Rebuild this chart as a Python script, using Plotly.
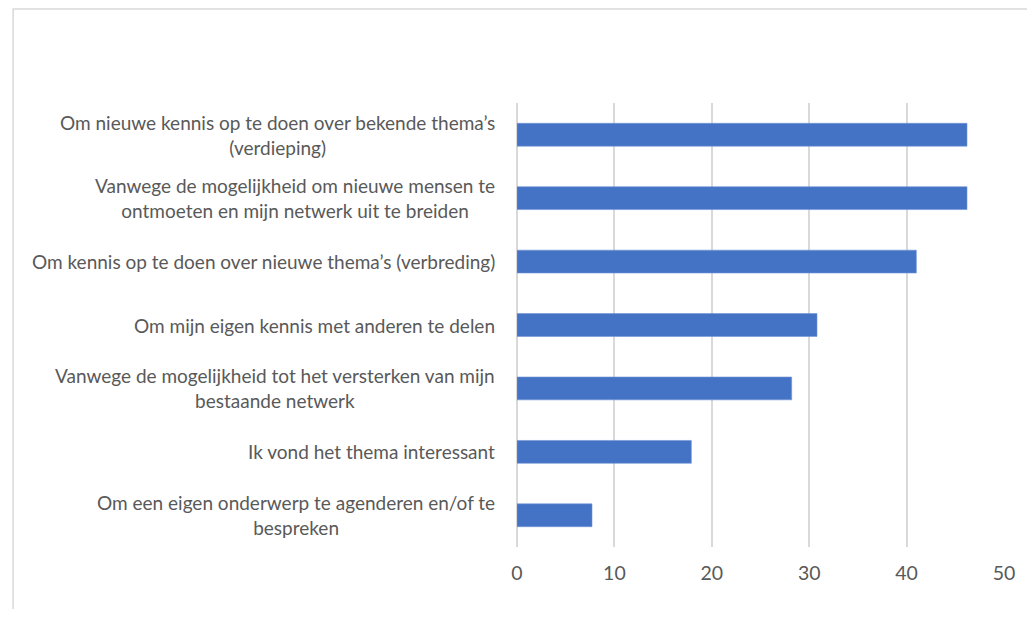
import plotly.graph_objects as go

categories = [
    "Om nieuwe kennis op te doen over bekende thema’s<br>(verdieping)",
    "Vanwege de mogelijkheid om nieuwe mensen te<br>ontmoeten en mijn netwerk uit te breiden",
    "Om kennis op te doen over nieuwe thema’s (verbreding)",
    "Om mijn eigen kennis met anderen te delen",
    "Vanwege de mogelijkheid tot het versterken van mijn<br>bestaande netwerk",
    "Ik vond het thema interessant",
    "Om een eigen onderwerp te agenderen en/of te<br>bespreken",
]
values = [46.2, 46.2, 41.0, 30.8, 28.2, 17.9, 7.7]
x_ticks = [0, 10, 20, 30, 40, 50]

# page body has an 8px margin; size the figure to fit inside it
W, H = 1019, 601
L, R, T, B = 509, 19, 95, 62
pw, ph = W - L - R, H - T - B

FONT = "Lato"
GRAY = "#595959"

fig = go.Figure(
    go.Bar(
        x=values,
        y=categories,
        orientation="h",
        marker=dict(color="#4472C4", line=dict(color="#6f93d6", width=0.6)),
        hoverinfo="x+y",
    )
)

for c in categories:
    fig.add_annotation(
        x=0, xref="paper", xshift=-20, y=c, yref="y",
        text=c, showarrow=False, xanchor="right", yanchor="middle",
        align="center", font=dict(family=FONT, size=19, color=GRAY),
    )

# outer light frame (right and bottom edges fall outside the picture)
fig.add_shape(
    type="rect", xref="paper", yref="paper",
    x0=(1 - L) / pw, x1=(W + 20 - L) / pw,
    y0=(H - B - (H + 20)) / ph, y1=(H - B - 1) / ph,
    line=dict(color="#d9d9d9", width=1.5), fillcolor="rgba(0,0,0,0)", layer="below",
)

fig.update_layout(
    width=W, height=H,
    margin=dict(l=L, r=R, t=T, b=B),
    paper_bgcolor="white", plot_bgcolor="white",
    bargap=0.64,
    showlegend=False,
    font=dict(family=FONT, color=GRAY),
)
fig.update_xaxes(
    range=[0, 50], tickvals=x_ticks, showgrid=True, gridcolor="#d9d9d9", gridwidth=1.5,
    zeroline=True, zerolinecolor="#d9d9d9", zerolinewidth=1.5,
    showline=False, ticks="", tickfont=dict(family=FONT, size=19.5, color=GRAY),
    ticklabelstandoff=12, fixedrange=True,
)
fig.update_yaxes(
    categoryorder="array", categoryarray=categories, autorange="reversed",
    showticklabels=False, showgrid=False, zeroline=False, showline=False, ticks="",
    fixedrange=True,
)

fig.write_html("out.html")
